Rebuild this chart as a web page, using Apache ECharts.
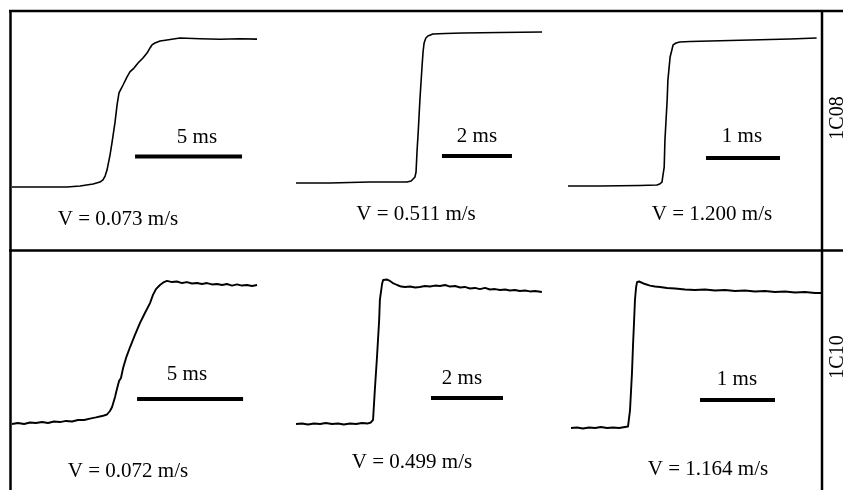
<!DOCTYPE html>
<html>
<head>
<meta charset="utf-8">
<script src="https://cdn.jsdelivr.net/npm/echarts@6/dist/echarts.min.js"></script>
<style>
html,body{margin:0;padding:0;background:#fff;}
#chart{width:843px;height:490px;}
</style>
</head>
<body>
<div id="chart"></div>
<script>
// ---- Data (time in ms, displacement normalised to plateau = 1) ----
const rowLabels = ['1C08', '1C10'];
const velocityLabels = ['V = 0.073 m/s', 'V = 0.511 m/s', 'V = 1.200 m/s',
                        'V = 0.072 m/s', 'V = 0.499 m/s', 'V = 1.164 m/s'];
const scaleLabels = ['5 ms', '2 ms', '1 ms', '5 ms', '2 ms', '1 ms'];
const scaleLengthMs = [5, 2, 1, 5, 2, 1];
const scaleStartMs = [5.75, 4.17, 1.865, 5.90, 3.75, 1.72];
const scaleLevel = [0.223, 0.227, 0.213, 0.186, 0.193, 0.179];

const t1 = [0,1.31,2.57,3.18,3.79,4.11,4.25,4.35,4.44,4.58,4.67,4.81,4.91,5.00,5.09,5.19,5.37,5.51,5.70,5.89,6.12,6.31,6.45,6.54,6.68,6.92,7.24,7.85,8.79,9.72,10.65,11.45];
const v1 = [0.02,0.02,0.02,0.027,0.04,0.053,0.067,0.093,0.133,0.233,0.313,0.447,0.567,0.647,0.673,0.70,0.753,0.787,0.813,0.847,0.88,0.913,0.947,0.967,0.98,0.993,1.0,1.013,1.008,1.005,1.008,1.006];

const t2 = [0,0.97,2.11,2.97,3.17,3.29,3.34,3.40,3.43,3.46,3.49,3.54,3.60,3.63,3.66,3.71,3.77,3.91,4.26,4.77,5.83,7.03];
const v2 = [0.047,0.047,0.053,0.053,0.053,0.06,0.067,0.087,0.12,0.267,0.38,0.60,0.82,0.92,0.98,1.013,1.027,1.04,1.043,1.047,1.05,1.053];

const t3 = [0,0.43,0.97,1.20,1.24,1.27,1.28,1.30,1.31,1.34,1.35,1.38,1.41,1.42,1.46,1.51,1.65,1.92,2.46,3.0,3.36];
const v3 = [0.027,0.027,0.03,0.033,0.04,0.053,0.087,0.153,0.333,0.60,0.733,0.887,0.947,0.967,0.98,0.987,0.99,0.993,1.0,1.007,1.013];

const t4 = [0,0.28,0.57,0.85,1.13,1.42,1.70,1.98,2.26,2.55,2.83,3.11,3.40,3.68,3.96,4.25,4.48,4.62,4.72,4.86,4.95,5.05,5.14,5.24,5.38,5.57,5.80,6.04,6.27,6.51,6.65,6.79,6.98,7.17,7.31,7.55,7.78,8.02,8.25,8.49,8.73,8.96,9.20,9.43,9.67,9.91,10.14,10.38,10.61,10.85,11.08,11.32,11.56];
const v4 = [0.007,0.014,0.007,0.018,0.014,0.021,0.014,0.025,0.021,0.029,0.025,0.036,0.036,0.046,0.054,0.064,0.075,0.10,0.129,0.20,0.257,0.314,0.336,0.407,0.479,0.557,0.643,0.729,0.80,0.871,0.929,0.971,1.0,1.021,1.029,1.021,1.025,1.014,1.021,1.011,1.014,1.007,1.014,1.004,1.007,1.0,1.007,0.996,1.004,0.996,1.0,0.993,1.0];

const t5 = [0,0.17,0.33,0.50,0.67,0.83,1.0,1.17,1.33,1.50,1.67,1.83,2.0,2.08,2.14,2.19,2.25,2.31,2.33,2.39,2.42,2.47,2.53,2.61,2.69,2.81,2.92,3.03,3.17,3.31,3.44,3.58,3.72,3.86,4.0,4.14,4.28,4.42,4.56,4.69,4.83,4.97,5.11,5.25,5.39,5.53,5.67,5.81,5.94,6.08,6.22,6.36,6.5,6.64,6.83];
const v5 = [0.007,0.011,0.004,0.011,0.007,0.014,0.007,0.011,0.004,0.011,0.007,0.014,0.011,0.018,0.036,0.25,0.486,0.75,0.893,1.007,1.036,1.043,1.039,1.029,1.014,1.0,0.989,0.986,0.989,0.982,0.986,0.993,0.989,0.996,0.993,1.0,0.989,0.993,0.982,0.986,0.975,0.979,0.971,0.979,0.968,0.971,0.964,0.968,0.961,0.964,0.957,0.961,0.954,0.957,0.95];

const t6 = [0,0.08,0.16,0.24,0.32,0.40,0.48,0.56,0.64,0.72,0.76,0.773,0.787,0.813,0.827,0.84,0.853,0.867,0.88,0.907,0.933,0.987,1.053,1.12,1.187,1.28,1.387,1.52,1.653,1.787,1.92,2.053,2.187,2.32,2.453,2.587,2.72,2.853,2.987,3.12,3.253,3.347];
const v6 = [-0.021,-0.018,-0.025,-0.018,-0.021,-0.014,-0.021,-0.018,-0.021,-0.014,-0.011,0,0.107,0.371,0.571,0.729,0.893,0.979,1.021,1.025,1.018,1.007,0.996,0.989,0.986,0.979,0.975,0.968,0.964,0.968,0.961,0.964,0.957,0.961,0.954,0.957,0.95,0.954,0.946,0.95,0.943,0.943];

// ---- Layout ----
const traces = [[t1,v1],[t2,v2],[t3,v3],[t4,v4],[t5,v5],[t6,v6]];
const xMax = [12, 7.2, 3.4, 11.7, 7, 3.4];
const gridBoxes = [
  {left:12,  top:10,  width:256.8, height:210},
  {left:296, top:10,  width:252,   height:210},
  {left:568, top:10,  width:251.6, height:210},
  {left:12,  top:257, width:248.04,height:196},
  {left:296, top:257, width:252,   height:196},
  {left:571, top:257, width:255,   height:196}
];
const lineWidths = [1.6,1.6,1.6,1.9,1.9,1.9];
const scaleTextPos = [[197,137],[477,136.5],[742,136],[187,374.5],[462,378],[737,379]];
const velTextPos = [[118,219],[416,214],[712,214.5],[128,471.5],[412,462.5],[708,469.5]];
const rowLabelPos = [[838,118],[838,357]];

const FONT = '"Liberation Serif", "Times New Roman", serif';

const grids = [], xAxes = [], yAxes = [], series = [];
traces.forEach((tr, i) => {
  grids.push(Object.assign({show:false, containLabel:false, outerBoundsMode:'none'}, gridBoxes[i]));
  xAxes.push({type:'value', gridIndex:i, min:0, max:xMax[i], show:false});
  yAxes.push({type:'value', gridIndex:i, min:-0.2, max:1.2, show:false});
  series.push({
    type:'line', xAxisIndex:i, yAxisIndex:i, showSymbol:false, symbol:'none', clip:false,
    silent:true, lineStyle:{color:'#000', width:lineWidths[i], join:'round'},
    data: tr[0].map((t, k) => [t, tr[1][k]])
  });
  series.push({
    type:'line', xAxisIndex:i, yAxisIndex:i, showSymbol:false, symbol:'none', clip:false,
    silent:true, lineStyle:{color:'#000', width:4, cap:'butt'},
    data: [[scaleStartMs[i], scaleLevel[i]], [scaleStartMs[i] + scaleLengthMs[i], scaleLevel[i]]]
  });
});

const graphics = [];
// frame
const frame = {stroke:'#000', lineWidth:2.5};
graphics.push({type:'line', shape:{x1:9,  y1:11,    x2:843, y2:11},    style:frame});
graphics.push({type:'line', shape:{x1:9,  y1:250.5, x2:843, y2:250.5}, style:frame});
graphics.push({type:'line', shape:{x1:10.5, y1:10,  x2:10.5, y2:490},  style:frame});
graphics.push({type:'line', shape:{x1:822, y1:10,   x2:822, y2:490},   style:frame});
for (let i = 0; i < 6; i++) {
  graphics.push({type:'text', x:scaleTextPos[i][0], y:scaleTextPos[i][1],
    style:{text:scaleLabels[i], fontSize:21, fontFamily:FONT, fill:'#000', align:'center', verticalAlign:'middle'}});
  graphics.push({type:'text', x:velTextPos[i][0], y:velTextPos[i][1],
    style:{text:velocityLabels[i], fontSize:21, fontFamily:FONT, fill:'#000', align:'center', verticalAlign:'middle'}});
}
rowLabels.forEach((lab, i) => {
  graphics.push({type:'text', x:rowLabelPos[i][0], y:rowLabelPos[i][1], rotation:Math.PI/2,
    style:{text:lab, fontSize:20, fontFamily:FONT, fill:'#000', align:'center', verticalAlign:'middle'}});
});

const chart = echarts.init(document.getElementById('chart'), null, {renderer:'canvas'});
chart.setOption({
  backgroundColor:'#fff',
  animation:false,
  grid:grids, xAxis:xAxes, yAxis:yAxes, series:series,
  graphic:{elements:graphics}
});
</script>
</body>
</html>
